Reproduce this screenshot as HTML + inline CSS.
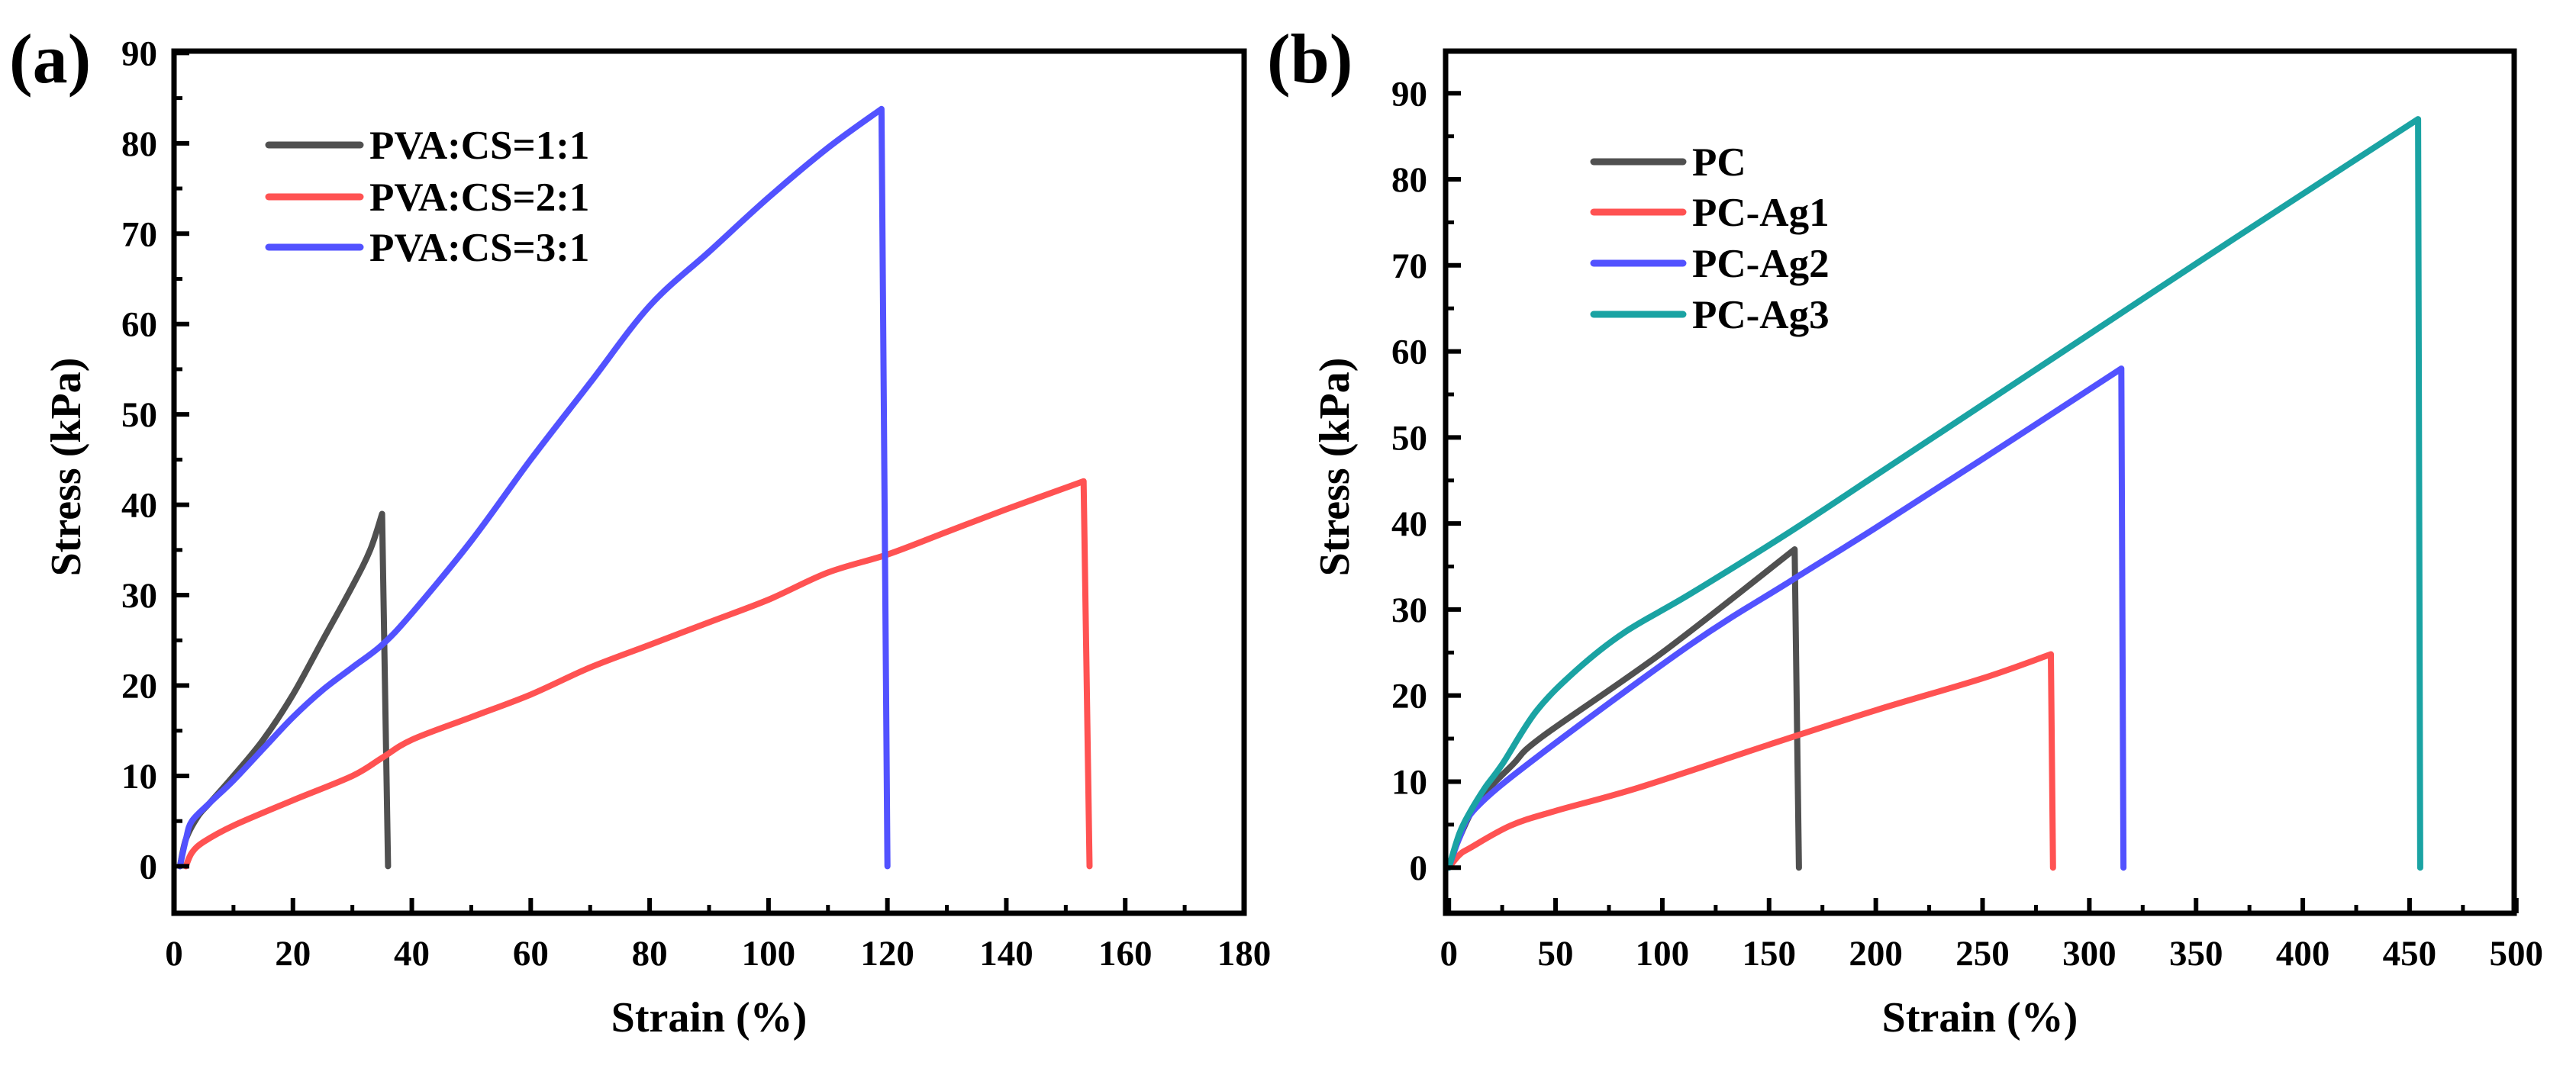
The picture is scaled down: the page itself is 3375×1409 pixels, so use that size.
<!DOCTYPE html>
<html><head><meta charset="utf-8"><style>
html,body{margin:0;padding:0;background:#fff;}
svg text{font-family:"Liberation Serif",serif;font-weight:bold;fill:#000;}
</style></head><body>
<svg id="fig" width="3375" height="1404" viewBox="0 0 3375 1404" xmlns="http://www.w3.org/2000/svg"></svg>
<script>
// ---- Panel (a) data ----
const aXTicks = [0,20,40,60,80,100,120,140,160,180];
const aYTicks = [0,10,20,30,40,50,60,70,80,90];
const aNames = ["PVA:CS=1:1","PVA:CS=2:1","PVA:CS=3:1"];
const aGrayX = [1,2,4,6,10,15,20,25,30,33,35,36];
const aGrayY = [0,3,5.5,7,10,14,19,25,31,35,39,0];
const aRedX = [2,3,5,10,20,30,35,40,50,60,70,80,90,100,110,120,130,140,153,154];
const aRedY = [0,1.5,2.7,4.5,7.3,10,12,14,16.5,19,22,24.5,27,29.5,32.5,34.5,37,39.5,42.6,0];
const aBlueX = [1,2,3,6,10,15,20,25,30,35,40,50,60,70,80,90,100,110,119,120];
const aBlueY = [0,3,5,7,9.5,13,16.5,19.5,22,24.5,28,36,45,53.5,62,68,74,79.5,83.8,0];
// ---- Panel (b) data ----
const bXTicks = [0,50,100,150,200,250,300,350,400,450,500];
const bYTicks = [0,10,20,30,40,50,60,70,80,90];
const bNames = ["PC","PC-Ag1","PC-Ag2","PC-Ag3"];
const bPcX = [0,5,14,30,43.6,100,162,164];
const bPcY = [0,3.5,7.8,12,15.2,25,37,0];
const bAg1X = [0,5,10,29,50,89,150,200,250,282,283];
const bAg1Y = [0,1.5,2.3,4.9,6.6,9.3,14.3,18.3,22,24.8,0];
const bAg2X = [0,5,12.6,41,113,160,200,250,315,316];
const bAg2Y = [0,3.5,6.9,12.8,25.9,33.3,39.5,47.5,58,0];
const bAg3X = [0,5,10,17,25,41,60,82,113,159,200,250,300,350,400,454,455];
const bAg3Y = [0,4,6.5,9.3,12,18.2,23,27.3,31.8,38.9,45.6,53.8,62,70.2,78.3,87,0];

const NS="http://www.w3.org/2000/svg";
const svg=document.getElementById('fig');
function mk(tag,attrs,parent){const e=document.createElementNS(NS,tag);for(const k in attrs)e.setAttribute(k,attrs[k]);(parent||svg).appendChild(e);return e;}

function smoothPath(P){
  // Catmull-Rom through all but last point; last segment straight (fracture drop)
  const n=P.length;
  let d='M'+P[0][0].toFixed(1)+','+P[0][1].toFixed(1);
  const m=n-1; // index of drop end
  for(let i=0;i<m-1;i++){
    const p0=P[Math.max(0,i-1)],p1=P[i],p2=P[i+1],p3=P[Math.min(m-1,i+2)];
    const c1=[p1[0]+(p2[0]-p0[0])/6,p1[1]+(p2[1]-p0[1])/6];
    const c2=[p2[0]-(p3[0]-p1[0])/6,p2[1]-(p3[1]-p1[1])/6];
    d+=' C'+c1[0].toFixed(1)+','+c1[1].toFixed(1)+' '+c2[0].toFixed(1)+','+c2[1].toFixed(1)+' '+p2[0].toFixed(1)+','+p2[1].toFixed(1);
  }
  d+=' L'+P[m][0].toFixed(1)+','+P[m][1].toFixed(1);
  return d;
}

function panel(cfg){
  const g=mk('g',{});
  
  
  const L=cfg.left,R=cfg.right,T=67,B=1197;
  const sx=v=>L+(v-cfg.xmin)/(cfg.xmax-cfg.xmin)*(R-L);
  const sy=v=>B-(v-cfg.ymin)/(cfg.ymax-cfg.ymin)*(B-T);
  cfg.series.forEach((s,i)=>{
    const P=s.x.map((v,j)=>[sx(v),sy(s.y[j])]);
    const p=mk('path',{d:smoothPath(P),fill:'none',stroke:s.c,'stroke-width':8,'stroke-linejoin':'round','stroke-linecap':'round'},g);
    
    
  });
  const fr=mk('rect',{x:L,y:T,width:R-L,height:B-T,fill:'none',stroke:'#000','stroke-width':7},g);
  
  
  cfg.xt.forEach(v=>{
    const x=sx(v);
    mk('line',{x1:x,y1:B,x2:x,y2:B-20,stroke:'#000','stroke-width':6},g);
    const t=mk('text',{x:x,y:1265,'font-size':47,'text-anchor':'middle'},g);t.textContent=v;
    
    
  });
  for(let v=cfg.xt[0]+cfg.xminor;v<cfg.xmax;v+=cfg.xminor*2){const x=sx(v);mk('line',{x1:x,y1:B,x2:x,y2:B-11,stroke:'#000','stroke-width':5},g);}
  cfg.yt.forEach(v=>{
    const y=sy(v);
    mk('line',{x1:L,y1:y,x2:L+20,y2:y,stroke:'#000','stroke-width':6},g);
    const t=mk('text',{x:cfg.ylabX,y:y+16,'font-size':47,'text-anchor':'end'},g);t.textContent=v;
    
    
  });
  for(let v=5;v<cfg.ymax;v+=10){const y=sy(v);mk('line',{x1:L,y1:y,x2:L+11,y2:y,stroke:'#000','stroke-width':5},g);}
  const xt=mk('text',{x:(L+R)/2,y:1352,'font-size':56,'text-anchor':'middle'},g);xt.textContent='Strain (%)';
  
  
  const yt=mk('text',{x:0,y:0,'font-size':56,'text-anchor':'middle',transform:'translate('+(cfg.ytitleX+18)+','+((T+B)/2-20)+') rotate(-90)'},g);yt.textContent='Stress (kPa)';
  
  
  const lb=mk('text',{x:cfg.labX,y:108,'font-size':92},g);lb.textContent=cfg.label;
  
  
  cfg.series.forEach((s,i)=>{
    const y=cfg.legY[i];
    const lg=mk('g',{},g);
    
    
    mk('line',{x1:cfg.legX1,y1:y,x2:cfg.legX2,y2:y,stroke:s.c,'stroke-width':9,'stroke-linecap':'round'},lg);
    const t=mk('text',{x:cfg.legX2+12,y:y+18,'font-size':53},lg);t.textContent=s.name;
  });
}
panel({id:'a',left:228,right:1630,xmin:0,xmax:180,ymin:-5.2,ymax:90.2,xt:aXTicks,yt:aYTicks,xminor:10,
  ylabX:206,ytitleX:87,labX:12,label:'(a)',legX1:352,legX2:472,legY:[190,258,324],
  series:[{key:'1-1',name:aNames[0],c:'#505050',x:aGrayX,y:aGrayY},
          {key:'2-1',name:aNames[1],c:'#ff5252',x:aRedX,y:aRedY},
          {key:'3-1',name:aNames[2],c:'#5252ff',x:aBlueX,y:aBlueY}]});
panel({id:'b',left:1894,right:3294,xmin:-1.5,xmax:499,ymin:-5.3,ymax:94.9,xt:bXTicks,yt:bYTicks,xminor:25,
  ylabX:1870,ytitleX:1749,labX:1660,label:'(b)',legX1:2088,legX2:2205,legY:[212,278,345,412],
  series:[{key:'pc',name:bNames[0],c:'#505050',x:bPcX,y:bPcY},
          {key:'ag1',name:bNames[1],c:'#ff5252',x:bAg1X,y:bAg1Y},
          {key:'ag2',name:bNames[2],c:'#5252ff',x:bAg2X,y:bAg2Y},
          {key:'ag3',name:bNames[3],c:'#1aa3a3',x:bAg3X,y:bAg3Y}]});
</script>
</body></html>
